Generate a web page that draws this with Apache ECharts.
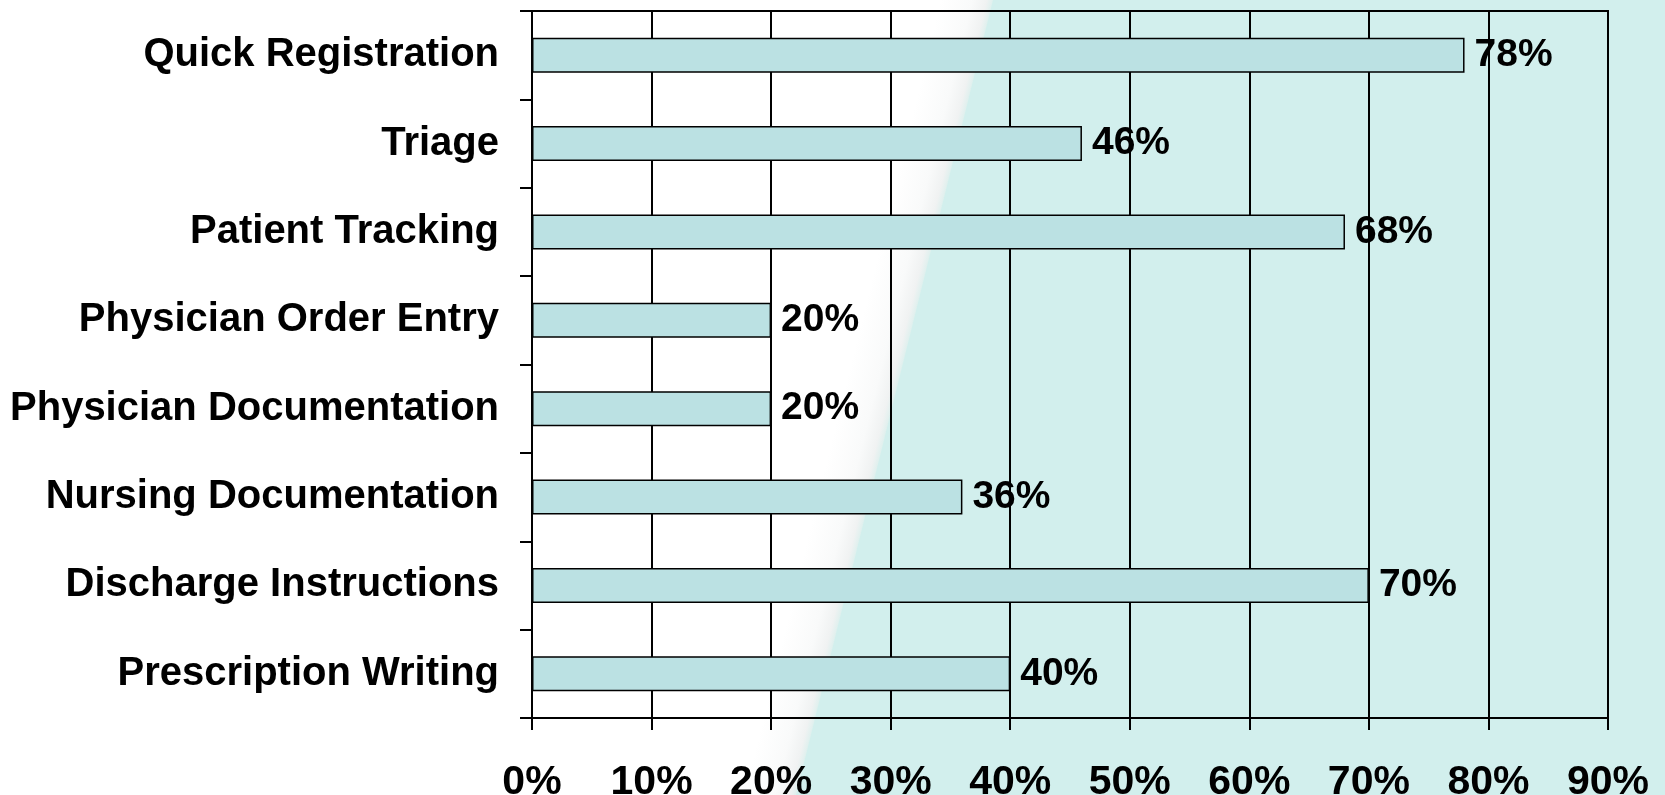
<!DOCTYPE html>
<html>
<head>
<meta charset="utf-8">
<script src="https://cdn.jsdelivr.net/npm/echarts@6/dist/echarts.min.js"></script>
<style>
  html, body { margin: 0; padding: 0; background: #ffffff; }
  #chart { width: 1665px; height: 795px; }
</style>
</head>
<body>
<div id="chart"></div>
<script>
// Share of respondents per emergency-department IT function
const categories = [
  'Quick Registration',
  'Triage',
  'Patient Tracking',
  'Physician Order Entry',
  'Physician Documentation',
  'Nursing Documentation',
  'Discharge Instructions',
  'Prescription Writing'
];
const percentages = [78, 46, 68, 20, 20, 36, 70, 40];
const axisMin = 0;
const axisMax = 90;
const axisStep = 10;

const chart = echarts.init(document.getElementById('chart'), null, { renderer: 'canvas' });

const W = 1665, H = 795;
// diagonal split of the backdrop: white on the left, pale teal on the right,
// with a soft grey sheen just before the teal starts
const edgeTop = 993, edgeBottom = 796;
const soft = 52;
const dx = edgeBottom - edgeTop, dy = H;
const len = Math.sqrt(dx * dx + dy * dy);
const nx = dy / len, ny = -dx / len;          // normal pointing right
const band = soft * nx;                        // band width measured along the normal

const option = {
  backgroundColor: '#ffffff',
  animation: false,
  graphic: [
    {
      type: 'polygon',
      z: -20,
      silent: true,
      shape: { points: [[edgeTop - soft, 0], [edgeTop + 1, 0], [edgeBottom + 1, H], [edgeBottom - soft, H]] },
      style: {
        fill: new echarts.graphic.LinearGradient(
          edgeTop - band * nx, -band * ny, edgeTop, 0, [
            { offset: 0, color: '#ffffff' },
            { offset: 0.6, color: '#f9fafa' },
            { offset: 0.88, color: '#f0f2f2' },
            { offset: 1, color: '#dff0ee' }
          ], true)
      }
    },
    {
      type: 'polygon',
      z: -20,
      silent: true,
      shape: { points: [[edgeTop, 0], [W, 0], [W, H], [edgeBottom, H]] },
      style: { fill: '#d2efed' }
    }
  ],
  grid: {
    left: 532,
    right: 57,
    top: 11,
    bottom: 77,
    outerBoundsMode: 'none',
    containLabel: false,
    show: true,
    borderColor: '#000000',
    borderWidth: 2,
    backgroundColor: 'transparent'
  },
  xAxis: {
    type: 'value',
    min: axisMin,
    max: axisMax,
    interval: axisStep,
    axisLine: { show: true, lineStyle: { color: '#000000', width: 2 } },
    axisTick: { show: true, length: 12, lineStyle: { color: '#000000', width: 2 } },
    splitLine: { show: true, lineStyle: { color: '#000000', width: 2 } },
    axisLabel: {
      formatter: '{value}%',
      color: '#000000',
      fontSize: 41,
      fontWeight: 'bold',
      fontFamily: '"Liberation Sans Narrow", "Arial Narrow", "Liberation Sans", Arial, sans-serif',
      margin: 44
    }
  },
  yAxis: {
    type: 'category',
    data: categories,
    inverse: true,
    axisLine: { show: true, lineStyle: { color: '#000000', width: 2 } },
    axisTick: { show: true, length: 12, lineStyle: { color: '#000000', width: 2 } },
    splitLine: { show: false },
    axisLabel: {
      color: '#000000',
      fontSize: 40,
      fontWeight: 'bold',
      fontFamily: '"Liberation Sans", Arial, sans-serif',
      margin: 33,
      padding: [10, 0, 0, 0]
    }
  },
  series: [
    {
      type: 'bar',
      data: percentages,
      barWidth: 35,
      itemStyle: {
        color: '#bbe1e3',
        borderColor: '#000000',
        borderWidth: 1.5
      },
      label: {
        show: true,
        position: 'right',
        distance: 10,
        formatter: '{c}%',
        color: '#000000',
        fontSize: 39,
        fontWeight: 'bold',
        fontFamily: '"Liberation Sans", Arial, sans-serif',
        padding: [6, 0, 0, 0]
      }
    }
  ]
};

chart.setOption(option);
</script>
</body>
</html>
